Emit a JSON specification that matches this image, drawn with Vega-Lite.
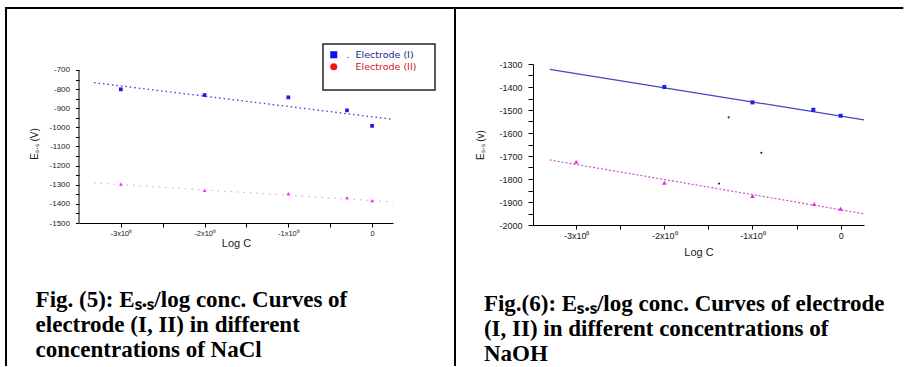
{
  "$schema": "https://vega.github.io/schema/vega-lite/v6.json",
  "background": "white",
  "padding": {"left": 4, "top": 6, "right": 0, "bottom": 0},
  "spacing": -4,
  "datasets": {
    "nacl": [
      {"series": "I", "x": -3, "y": -801},
      {"series": "I", "x": -2, "y": -831},
      {"series": "I", "x": -1, "y": -843},
      {"series": "I", "x": -0.3, "y": -911},
      {"series": "I", "x": 0, "y": -992},
      {"series": "II", "x": -3, "y": -1297},
      {"series": "II", "x": -2, "y": -1330},
      {"series": "II", "x": -1, "y": -1346},
      {"series": "II", "x": -0.3, "y": -1367},
      {"series": "II", "x": 0, "y": -1383}
    ],
    "nacl_fit": [
      {"series": "I", "x": -3.32, "y": -766},
      {"series": "I", "x": 0.25, "y": -958},
      {"series": "II", "x": -3.32, "y": -1290},
      {"series": "II", "x": 0.25, "y": -1390}
    ],
    "naoh": [
      {"series": "I", "x": -2, "y": -1400},
      {"series": "I", "x": -1, "y": -1467},
      {"series": "I", "x": -0.31, "y": -1499},
      {"series": "I", "x": 0, "y": -1525},
      {"series": "II", "x": -3, "y": -1725},
      {"series": "II", "x": -2, "y": -1816},
      {"series": "II", "x": -1, "y": -1874},
      {"series": "II", "x": -0.3, "y": -1909},
      {"series": "II", "x": 0, "y": -1929},
      {"series": "stray", "x": -1.27, "y": -1532},
      {"series": "stray", "x": -0.9, "y": -1686},
      {"series": "stray", "x": -1.38, "y": -1820}
    ],
    "naoh_fit": [
      {"series": "I", "x": -3.3, "y": -1323},
      {"series": "I", "x": 0.265, "y": -1543},
      {"series": "II", "x": -3.3, "y": -1717},
      {"series": "II", "x": 0.265, "y": -1951}
    ]
  },
  "hconcat": [
    {
      "width": 314,
      "height": 159,
      "title": {
        "text": ["Fig. (5): Eₛ.ₛ/log conc. Curves of", "electrode (I, II) in different", "concentrations of NaCl"],
        "orient": "bottom",
        "anchor": "start",
        "frame": "bounds",
        "offset": -77,
        "dx": 31,
        "font": "Liberation Serif",
        "fontSize": 23,
        "fontWeight": "bold",
        "lineHeight": 25,
        "color": "#000000"
      },
      "layer": [
        {
          "data": {"values": [{}]},
          "mark": {"type": "rule", "color": "#000000", "strokeWidth": 2, "strokeCap": "square"},
          "encoding": {
            "x": {"datum": -4.3718, "type": "quantitative", "scale": {"domain": [-3.5, 0.25], "nice": false, "zero": false}},
            "y": {"datum": -375.8, "type": "quantitative", "scale": {"domain": [-1500, -668.63], "nice": false, "zero": false}},
            "y2": {"datum": -2242.5}
          }
        },
        {
          "data": {"values": [{}]},
          "mark": {"type": "rule", "color": "#000000", "strokeWidth": 2, "strokeCap": "square"},
          "encoding": {
            "x": {"datum": -4.3718, "type": "quantitative", "scale": {"domain": [-3.5, 0.25], "nice": false, "zero": false}},
            "x2": {"datum": 0.99045},
            "y": {"datum": -375.8, "type": "quantitative", "scale": {"domain": [-1500, -668.63], "nice": false, "zero": false}}
          }
        },
        {
          "data": {"values": [{}]},
          "mark": {"type": "rule", "color": "#000000", "strokeWidth": 2, "strokeCap": "square"},
          "encoding": {
            "x": {"datum": 0.99045, "type": "quantitative", "scale": {"domain": [-3.5, 0.25], "nice": false, "zero": false}},
            "y": {"datum": -375.8, "type": "quantitative", "scale": {"domain": [-1500, -668.63], "nice": false, "zero": false}},
            "y2": {"datum": -2242.5}
          }
        },
        {
          "data": {"values": [{}]},
          "mark": {"type": "rule", "color": "#000000", "strokeWidth": 1},
          "encoding": {
            "x": {"datum": -3.5, "type": "quantitative", "scale": {"domain": [-3.5, 0.25], "nice": false, "zero": false}},
            "y": {"datum": -1500, "type": "quantitative", "scale": {"domain": [-1500, -668.63], "nice": false, "zero": false}},
            "y2": {"datum": -700}
          }
        },
        {
          "data": {"name": "nacl_fit"},
          "transform": [{"filter": "datum.series == 'I'"}],
          "mark": {"type": "line", "color": "#3b3bc6", "strokeWidth": 1.3, "strokeDash": [1.5, 3]},
          "encoding": {
            "x": {"field": "x", "type": "quantitative", "scale": {"domain": [-3.5, 0.25], "nice": false, "zero": false}},
            "y": {"field": "y", "type": "quantitative", "scale": {"domain": [-1500, -668.63], "nice": false, "zero": false}}
          }
        },
        {
          "data": {"name": "nacl_fit"},
          "transform": [{"filter": "datum.series == 'II'"}],
          "mark": {"type": "line", "color": "#e2a6e2", "strokeWidth": 1.2, "strokeDash": [1.5, 5]},
          "encoding": {
            "x": {"field": "x", "type": "quantitative", "scale": {"domain": [-3.5, 0.25], "nice": false, "zero": false}},
            "y": {"field": "y", "type": "quantitative", "scale": {"domain": [-1500, -668.63], "nice": false, "zero": false}}
          }
        },
        {
          "data": {"name": "nacl"},
          "transform": [{"filter": "datum.series == 'II'"}],
          "mark": {"type": "point", "filled": true, "shape": "triangle-up", "size": 14, "color": "#ff22ff", "opacity": 1},
          "encoding": {
            "x": {"field": "x", "type": "quantitative", "scale": {"domain": [-3.5, 0.25], "nice": false, "zero": false}},
            "y": {"field": "y", "type": "quantitative", "scale": {"domain": [-1500, -668.63], "nice": false, "zero": false}}
          }
        },
        {
          "data": {"name": "nacl"},
          "transform": [{"filter": "datum.series == 'I'"}],
          "mark": {"type": "point", "filled": true, "shape": "square", "size": 14, "color": "#1c1ce6", "opacity": 1},
          "encoding": {
            "x": {
              "field": "x", "type": "quantitative",
              "scale": {"domain": [-3.5, 0.25], "nice": false, "zero": false},
              "axis": {
                "values": [-3, -2.5, -2, -1.5, -1, -0.5, 0], "tickCount": 50,
                "labelExpr": "datum.value == 0 ? '0' : (datum.value % 1 == 0 ? '-' + abs(datum.value) + 'x10⁰' : '')",
                "labelFontSize": 7.5, "labelPadding": 2, "tickSize": 4, "labelOverlap": false, "labelFlush": false,
                "title": "Log C", "titleFontSize": 11, "titlePadding": 1
              }
            },
            "y": {
              "field": "y", "type": "quantitative",
              "scale": {"domain": [-1500, -668.63], "nice": false, "zero": false},
              "axis": {
                "values": [-1500, -1450, -1400, -1350, -1300, -1250, -1200, -1150, -1100, -1050, -1000, -950, -900, -850, -800, -750, -700], "tickCount": 50,
                "labelExpr": "datum.value % 100 == 0 ? '-' + abs(datum.value) : ''",
                "labelFontSize": 8, "labelPadding": 6, "tickSize": 3.5, "domain": false, "labelOverlap": false, "labelFlush": false, "labelBound": false,
                "title": "Eₛ.ₛ (V)", "titleFontSize": 10, "titlePadding": 10
              }
            }
          }
        },
        {
          "data": {"name": "nacl"},
          "transform": [{"filter": "false"}],
          "mark": {"type": "point", "filled": true, "opacity": 1},
          "encoding": {
            "x": {"field": "x", "type": "quantitative", "scale": {"domain": [-3.5, 0.25], "nice": false, "zero": false}},
            "y": {"field": "y", "type": "quantitative", "scale": {"domain": [-1500, -668.63], "nice": false, "zero": false}},
            "fill": {
              "field": "legend", "type": "nominal",
              "scale": {"domain": ["Electrode (I)", "Electrode (II)", "fit"], "range": ["#1010ee", "#ff1010", "transparent"]},
              "legend": {
                "title": null, "orient": "none", "legendX": 244, "legendY": -20,
                "labelExpr": "datum.value == 'Electrode (I)' ? '.\u00a0\u00a0Electrode (I)' : (datum.value == 'Electrode (II)' ? '\u200b\u00a0\u00a0\u00a0Electrode (II)\u00a0\u00a0\u00a0\u00a0\u200b' : '')",
                "labelColor": {"expr": "datum.value == 'Electrode (I)' ? '#23238c' : '#d42020'"}
              }
            },
            "shape": {
              "field": "legend", "type": "nominal",
              "scale": {"domain": ["Electrode (I)", "Electrode (II)", "fit"], "range": ["square", "circle", "circle"]}
            }
          }
        }
      ]
    },
    {
      "width": 331,
      "height": 161,
      "title": {
        "text": ["Fig.(6): Eₛ.ₛ/log conc. Curves of electrode", "(I, II) in different concentrations of", "NaOH"],
        "orient": "bottom",
        "anchor": "start",
        "frame": "bounds",
        "offset": 36,
        "dx": 30,
        "font": "Liberation Serif",
        "fontSize": 23,
        "fontWeight": "bold",
        "lineHeight": 25,
        "color": "#000000"
      },
      "layer": [
        {
          "data": {"values": [{}]},
          "mark": {"type": "rule", "color": "#000000", "strokeWidth": 2, "strokeCap": "square"},
          "encoding": {
            "x": {"datum": -4.3715, "type": "quantitative", "scale": {"domain": [-3.49, 0.265], "nice": false, "zero": false}},
            "x2": {"datum": 0.6995},
            "y": {"datum": -1056.5, "type": "quantitative", "scale": {"domain": [-2000, -1300], "nice": false, "zero": false}}
          }
        },
        {
          "data": {"name": "naoh_fit"},
          "transform": [{"filter": "datum.series == 'I'"}],
          "mark": {"type": "line", "color": "#4747c2", "strokeWidth": 1.3},
          "encoding": {
            "x": {"field": "x", "type": "quantitative", "scale": {"domain": [-3.49, 0.265], "nice": false, "zero": false}},
            "y": {"field": "y", "type": "quantitative", "scale": {"domain": [-2000, -1300], "nice": false, "zero": false}}
          }
        },
        {
          "data": {"name": "naoh_fit"},
          "transform": [{"filter": "datum.series == 'II'"}],
          "mark": {"type": "line", "color": "#c452c8", "strokeWidth": 1.2, "strokeDash": [2, 2]},
          "encoding": {
            "x": {"field": "x", "type": "quantitative", "scale": {"domain": [-3.49, 0.265], "nice": false, "zero": false}},
            "y": {"field": "y", "type": "quantitative", "scale": {"domain": [-2000, -1300], "nice": false, "zero": false}}
          }
        },
        {
          "data": {"name": "naoh"},
          "transform": [{"filter": "datum.series == 'stray'"}],
          "mark": {"type": "point", "filled": true, "shape": "circle", "size": 5, "color": "#333333", "opacity": 1},
          "encoding": {
            "x": {"field": "x", "type": "quantitative", "scale": {"domain": [-3.49, 0.265], "nice": false, "zero": false}},
            "y": {"field": "y", "type": "quantitative", "scale": {"domain": [-2000, -1300], "nice": false, "zero": false}}
          }
        },
        {
          "data": {"name": "naoh"},
          "transform": [{"filter": "datum.series == 'II'"}],
          "mark": {"type": "point", "filled": true, "shape": "triangle-up", "size": 22, "color": "#e030e0", "opacity": 1},
          "encoding": {
            "x": {"field": "x", "type": "quantitative", "scale": {"domain": [-3.49, 0.265], "nice": false, "zero": false}},
            "y": {"field": "y", "type": "quantitative", "scale": {"domain": [-2000, -1300], "nice": false, "zero": false}}
          }
        },
        {
          "data": {"name": "naoh"},
          "transform": [{"filter": "datum.series == 'I'"}],
          "mark": {"type": "point", "filled": true, "shape": "square", "size": 16, "color": "#2020e0", "opacity": 1},
          "encoding": {
            "x": {
              "field": "x", "type": "quantitative",
              "scale": {"domain": [-3.49, 0.265], "nice": false, "zero": false},
              "axis": {
                "values": [-3, -2.5, -2, -1.5, -1, -0.5, 0], "tickCount": 50,
                "labelExpr": "datum.value == 0 ? '0' : (datum.value % 1 == 0 ? '-' + abs(datum.value) + 'x10⁰' : '')",
                "labelFontSize": 9, "labelPadding": 2, "tickSize": 4, "labelOverlap": false, "labelFlush": false,
                "title": "Log C", "titleFontSize": 11, "titlePadding": 6
              }
            },
            "y": {
              "field": "y", "type": "quantitative",
              "scale": {"domain": [-2000, -1300], "nice": false, "zero": false},
              "axis": {
                "values": [-2000, -1950, -1900, -1850, -1800, -1750, -1700, -1650, -1600, -1550, -1500, -1450, -1400, -1350, -1300], "tickCount": 50,
                "labelExpr": "datum.value % 100 == 0 ? '-' + abs(datum.value) : ''",
                "labelFontSize": 9, "labelPadding": 6, "tickSize": 5, "labelOverlap": false, "labelFlush": false, "labelBound": false,
                "title": "Eₛ.ₛ (v)", "titleFontSize": 10, "titlePadding": 13
              }
            }
          }
        },
        {
          "data": {"name": "naoh"},
          "transform": [{"filter": "false"}],
          "mark": {"type": "point", "filled": true, "opacity": 1},
          "encoding": {
            "x": {"field": "x", "type": "quantitative", "scale": {"domain": [-3.49, 0.265], "nice": false, "zero": false}},
            "y": {"field": "y", "type": "quantitative", "scale": {"domain": [-2000, -1300], "nice": false, "zero": false}},
            "fill": {
              "field": "legend", "type": "nominal",
              "scale": {"domain": ["Electrode (I)", "Electrode (II)", "fit"], "range": ["#1010ee", "#ff1010", "transparent"]},
              "legend": {
                "title": null, "orient": "none", "legendX": 248, "legendY": -21,
                "labelExpr": "datum.value == 'Electrode (I)' ? '.\u00a0\u00a0Electrode (I)' : (datum.value == 'Electrode (II)' ? '\u200b\u00a0\u00a0\u00a0Electrode (II)\u00a0\u00a0\u00a0\u00a0\u200b' : '')",
                "labelColor": {"expr": "datum.value == 'Electrode (I)' ? '#23238c' : '#d42020'"}
              }
            },
            "shape": {
              "field": "legend", "type": "nominal",
              "scale": {"domain": ["Electrode (I)", "Electrode (II)", "fit"], "range": ["square", "circle", "circle"]}
            }
          }
        }
      ]
    }
  ],
  "config": {
    "view": {"stroke": null},
    "axis": {
      "domainColor": "#000000", "tickColor": "#000000", "labelColor": "#1a1a1a", "titleColor": "#1a1a1a",
      "grid": false, "labelFont": "Liberation Sans", "titleFont": "Liberation Sans", "titleFontWeight": "normal",
      "domainWidth": 1, "tickWidth": 1, "labelOverlap": false, "labelFlush": false, "labelBound": false
    },
    "legend": {
      "padding": 6, "rowPadding": 1, "labelOffset": 8, "labelFont": "DejaVu Sans", "labelFontSize": 9.5,
      "strokeColor": "#262626", "strokeWidth": 1.5, "fillColor": "#ffffff", "symbolSize": 50, "symbolStrokeWidth": 0
    }
  }
}
